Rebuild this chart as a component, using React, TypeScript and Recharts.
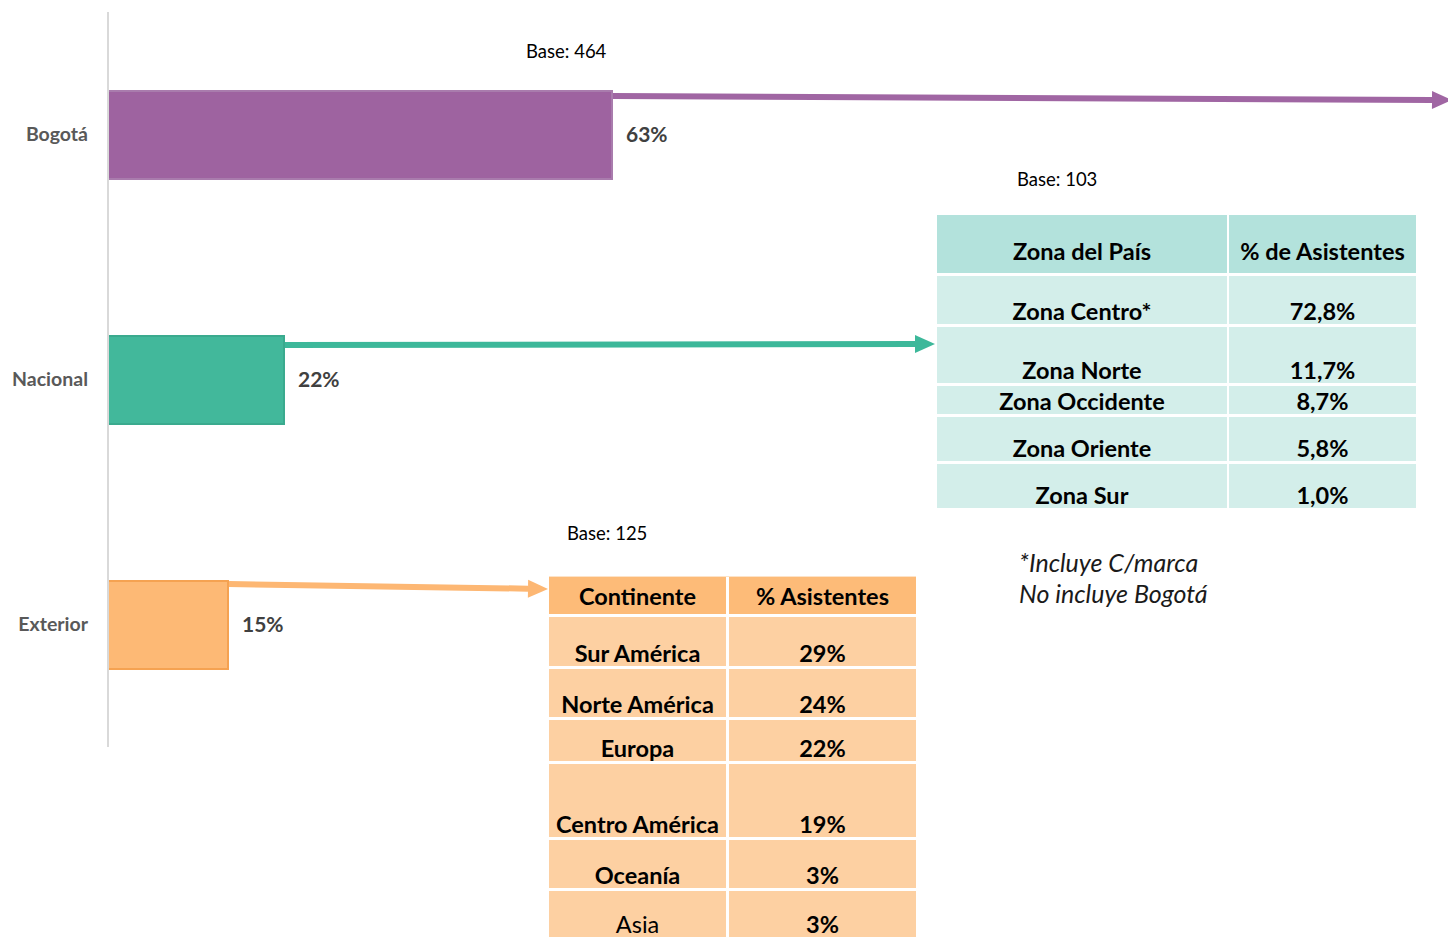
import { Bar, BarChart, Cell, LabelList, XAxis, YAxis } from "recharts"

const regions = ["Bogotá", "Nacional", "Exterior"]
const shares = [63, 22, 15]
const bases = ["Base: 464", "Base: 103", "Base: 125"]

const zoneHeader = ["Zona del País", "% de Asistentes"]
const zones = ["Zona Centro*", "Zona Norte", "Zona Occidente", "Zona Oriente", "Zona Sur"]
const zoneShares = ["72,8%", "11,7%", "8,7%", "5,8%", "1,0%"]

const continentHeader = ["Continente", "% Asistentes"]
const continents = ["Sur América", "Norte América", "Europa", "Centro América", "Oceanía", "Asia"]
const continentShares = ["29%", "24%", "22%", "19%", "3%", "3%"]

const notes = ["*Incluye C/marca", "No incluye Bogotá"]

const data = regions.map((region, i) => ({ region, share: shares[i] }))

const fills = ["#9E63A0", "#42B89B", "#FDB975"]
const strokes = ["#A97CAD", "#3AAA8E", "#F5A251"]
const arrowColors = ["#A066A3", "#3DB89A", "#FDB773"]
// where each arrow leaves the bar (dy from bar top) and where it points to
const arrows = [
  { dy: 5, tx: 1452, ty: 100 },
  { dy: 9, tx: 935, ty: 344 },
  { dy: 3, tx: 548, ty: 589 }
]

const FONT = "Lato, 'Noto Sans', sans-serif"

const ArrowBar = (props: any) => {
  const { x, y, width, height, index } = props
  const a = arrows[index]
  const sx = x + width + 1
  const sy = y + a.dy
  const dx = a.tx - sx
  const dyy = a.ty - sy
  const len = Math.sqrt(dx * dx + dyy * dyy)
  const ux = dx / len
  const uy = dyy / len
  const head = 20
  const half = 9
  const bx = a.tx - ux * head
  const by = a.ty - uy * head
  const pts = [
    `${a.tx},${a.ty}`,
    `${bx - uy * half},${by + ux * half}`,
    `${bx + uy * half},${by - ux * half}`
  ].join(" ")
  return (
    <g>
      <rect
        x={x}
        y={y}
        width={width}
        height={height}
        fill={fills[index]}
        stroke={strokes[index]}
        strokeWidth={2}
      />
      <line
        x1={sx}
        y1={sy}
        x2={bx}
        y2={by}
        stroke={arrowColors[index]}
        strokeWidth={6}
      />
      <polygon points={pts} fill={arrowColors[index]} />
    </g>
  )
}

type TableProps = {
  left: number
  top: number
  cols: number[]
  colGap: number
  rowHeights: number[]
  header: string[]
  col1: string[]
  col2: string[]
  headFill: string
  bodyFill: string
  headPad: number
  headAlign: string
  bodyPad: number
}

const InfoTable = (p: TableProps) => {
  const rows = [p.header, ...p.col1.map((c, i) => [c, p.col2[i]])]
  return (
    <div
      style={{
        position: "absolute",
        left: p.left,
        top: p.top,
        display: "grid",
        gridTemplateColumns: p.cols.map((c) => `${c}px`).join(" "),
        gridTemplateRows: p.rowHeights.map((h) => `${h}px`).join(" "),
        columnGap: p.colGap,
        rowGap: 3,
        background: "#fff"
      }}
    >
      {rows.map((r, ri) =>
        r.map((cell, ci) => (
          <div
            key={`${ri}-${ci}`}
            style={{
              background: ri === 0 ? p.headFill : p.bodyFill,
              display: "flex",
              justifyContent: "center",
              alignItems: ri === 0 ? p.headAlign : "flex-end",
              paddingBottom: ri === 0 ? p.headPad : p.bodyPad,
              boxSizing: "border-box",
              fontSize: 23.5,
              lineHeight: "26px",
              fontWeight: cell === "Asia" ? 400 : 700,
              color: "#000",
              whiteSpace: "nowrap",
              overflow: "visible"
            }}
          >
            {cell}
          </div>
        ))
      )}
    </div>
  )
}

const baseStyle = {
  position: "absolute" as const,
  fontSize: 18.5,
  lineHeight: "20px",
  color: "#000"
}

export default function App() {
  return (
    <div
      style={{
        position: "absolute",
        left: 0,
        top: 0,
        width: 1448,
        height: 938,
        overflow: "hidden",
        background: "#fff",
        fontFamily: FONT
      }}
    >
      <BarChart
        width={1448}
        height={938}
        data={data}
        layout="vertical"
        margin={{ top: 12, right: 540, bottom: 191, left: 0 }}
      >
        <XAxis type="number" domain={[0, 100]} hide />
        <YAxis
          type="category"
          dataKey="region"
          width={108}
          axisLine={{ stroke: "#d9d9d9", strokeWidth: 2 }}
          tickLine={false}
          tickSize={0}
          tickMargin={20}
          tick={{ fill: "#595959", fontSize: 19.5, fontWeight: 700, fontFamily: FONT }}
        />
        <Bar dataKey="share" barSize={88} isAnimationActive={false} shape={ArrowBar}>
          {data.map((d, i) => (
            <Cell key={d.region} fill={fills[i]} />
          ))}
          <LabelList
            dataKey="share"
            position="right"
            offset={14}
            formatter={(v: any) => `${v}%`}
            fill="#404040"
            fontSize={21}
            fontWeight={700}
            fontFamily={FONT}
          />
        </Bar>
      </BarChart>

      <div style={{ ...baseStyle, left: 526, top: 41 }}>{bases[0]}</div>
      <div style={{ ...baseStyle, left: 1017, top: 169 }}>{bases[1]}</div>
      <div style={{ ...baseStyle, left: 567, top: 523 }}>{bases[2]}</div>

      <InfoTable
        left={937}
        top={215}
        cols={[290, 187]}
        colGap={2}
        rowHeights={[58, 48, 56, 28, 44, 44]}
        header={zoneHeader}
        col1={zones}
        col2={zoneShares}
        headFill="#B3E2DC"
        bodyFill="#D3EEEA"
        headPad={9}
        headAlign="flex-end"
        bodyPad={0}
      />

      <div
        style={{
          position: "absolute",
          left: 549,
          top: 576,
          width: 367,
          height: 1,
          background: "#FDE3C8"
        }}
      />
      <InfoTable
        left={549}
        top={577}
        cols={[177, 187]}
        colGap={3}
        rowHeights={[37, 49, 48, 41, 73, 48, 46]}
        header={continentHeader}
        col1={continents}
        col2={continentShares}
        headFill="#FDBB78"
        bodyFill="#FDD0A2"
        headPad={0}
        headAlign="center"
        bodyPad={0}
      />

      <div
        style={{
          position: "absolute",
          left: 1019,
          top: 547,
          fontSize: 25,
          lineHeight: "31px",
          fontStyle: "italic",
          color: "#1a1a1a"
        }}
      >
        {notes.map((n) => (
          <div key={n}>{n}</div>
        ))}
      </div>
    </div>
  )
}
